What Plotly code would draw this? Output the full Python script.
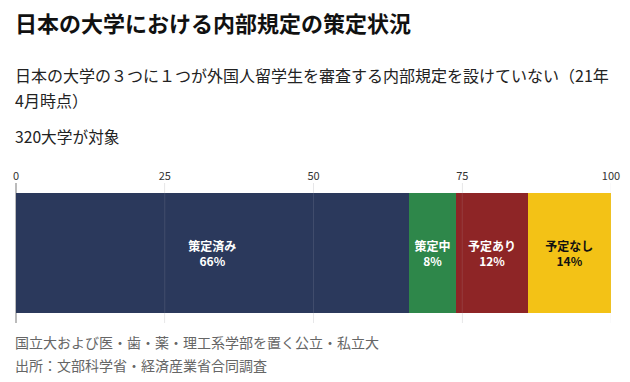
import plotly.graph_objects as go

# Data
categories = ["策定済み", "策定中", "予定あり", "予定なし"]
values = [66, 8, 12, 14]
colors = ["#2b395c", "#2e874a", "#8e2526", "#f3c216"]
text_colors = ["white", "white", "white", "#111111"]
tick_vals = [0, 25, 50, 75, 100]
tick_text = ["0", "25", "50", "75", "100"]

title = "日本の大学における内部規定の策定状況"
subtitle1 = "日本の大学の３つに１つが外国人留学生を審査する内部規定を設けていない（21年"
subtitle2 = "4月時点）"
subnote = "320大学が対象"
note1 = "国立大および医・歯・薬・理工系学部を置く公立・私立大"
note2 = "出所：文部科学省・経済産業省合同調査"

W, H = 630, 382
L, R, T, B = 16, 19, 183, 59
FONT = "Noto Sans CJK JP"

fig = go.Figure()
for cat, v, c, tc in zip(categories, values, colors, text_colors):
    fig.add_trace(go.Bar(
        x=[v], y=[0], orientation="h", name=cat,
        marker=dict(color=c, line=dict(width=0)),
        width=0.857,
        text=[f"<b>{cat}<br>{v}%</b>"],
        textposition="inside", insidetextanchor="middle",
        textfont=dict(color=tc, size=12, family=FONT),
        constraintext="none",
        hoverinfo="skip",
    ))

pw = W - L - R
ph = H - T - B
def px2x(px):
    return (px - L) / pw
def py2y(py):
    return (H - B - py) / ph

annos = [
    dict(text=f"<b>{title}</b>", x=px2x(13), y=py2y(22), size=22, color="#111111"),
    dict(text=subtitle1, x=px2x(13), y=py2y(75), size=16, color="#222222"),
    dict(text=subtitle2, x=px2x(13), y=py2y(100), size=16, color="#222222"),
    dict(text=subnote, x=px2x(13), y=py2y(136), size=15.7, color="#222222"),
    dict(text=note1, x=px2x(13), y=py2y(342), size=14, color="#666666"),
    dict(text=note2, x=px2x(13), y=py2y(365), size=14, color="#666666"),
]
for a in annos:
    fig.add_annotation(text=a["text"], x=a["x"], y=a["y"], xref="paper", yref="paper",
                       xanchor="left", yanchor="middle", showarrow=False,
                       font=dict(size=a["size"], color=a["color"], family=FONT))

# faint grid lines drawn over the bar
for tv in tick_vals[1:]:
    fig.add_shape(type="line", x0=tv, x1=tv, xref="x", y0=0, y1=1, yref="paper",
                  line=dict(color="rgba(190,190,200,0.15)", width=1), layer="above")

fig.update_layout(
    width=W, height=H,
    margin=dict(l=L, r=R, t=T, b=B),
    barmode="stack",
    showlegend=False,
    paper_bgcolor="white", plot_bgcolor="white",
    font=dict(family=FONT),
    xaxis=dict(range=[0, 100], side="top", tickvals=tick_vals, ticktext=tick_text,
               showgrid=True, gridcolor="#efefef", gridwidth=1,
               zeroline=True, zerolinecolor="#bbbbbb", zerolinewidth=2,
               showline=False, ticks="", tickfont=dict(size=11, color="#333333", family=FONT),
               fixedrange=True, automargin=False),
    yaxis=dict(range=[-0.5, 0.5], visible=False, fixedrange=True),
)

fig.write_html("out.html", config={"displayModeBar": False},
               post_script="document.body.style.margin='0';document.body.style.overflow='hidden';")
